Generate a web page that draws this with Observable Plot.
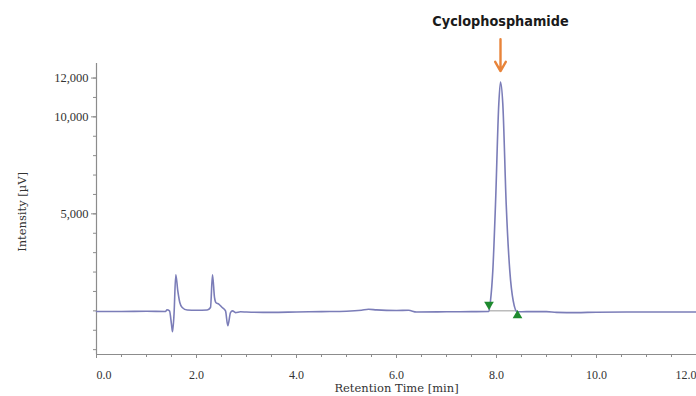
<!DOCTYPE html>
<html>
<head>
<meta charset="utf-8">
<script src="https://cdn.jsdelivr.net/npm/d3@7"></script>
<script src="https://cdn.jsdelivr.net/npm/@observablehq/plot@0.6"></script>
<style>
  html, body { margin: 0; padding: 0; background: #fff; }
  #chart { width: 696px; height: 396px; }
</style>
</head>
<body>
<div id="chart"></div>
<script>
// Chromatogram trace (retention time in min, intensity in µV)
const time = [0.0, 0.5, 1.0, 1.38, 1.41, 1.46, 1.50, 1.52, 1.55, 1.586, 1.626, 1.666, 1.714, 1.814, 2.0, 2.214, 2.28, 2.32, 2.36, 2.386, 2.446, 2.514, 2.58, 2.626, 2.68, 2.72, 2.78, 2.88, 3.0, 3.5, 4.0, 4.5, 5.0, 5.3, 5.44, 5.6, 6.0, 6.24, 6.4, 7.0, 7.5, 7.846, 7.88, 7.926, 7.98, 8.046, 8.08, 8.126, 8.194, 8.266, 8.334, 8.414, 8.6, 9.0, 9.2, 9.6, 10.0, 11.0, 12.0];
const intensity = [-30, -30, -20, -30, 60, 0, -700, -1080, -200, 1860, 1030, 430, 170, 40, 30, 40, 170, 1860, 690, 430, 350, 170, 0, -770, -90, 0, -90, -50, -60, -80, -60, -40, -20, 30, 80, 50, 20, 30, -60, -50, -40, -30, 520, 2060, 5500, 10670, 11800, 10670, 5500, 2060, 520, -50, -40, -40, -80, -90, -70, -60, -60];

// Peak annotation
const peakName = ["Cyclophosphamide"];
const peakTime = [8.08];
const peakHeight = [11800];
// Integration start / end markers
const markTime = [7.85, 8.42];
const markIntensity = [330, -240];

// Axis ticks
const yLabelTicks = [5000, 10000, 12000];
const yMinorTicks = d3.range(-2000, 12001, 1000);
const xLabelTicks = [2, 4, 6, 8, 10];
const xMinorTicks = d3.range(0, 12.01, 0.5);
const xMajorTicks = d3.range(0, 12.01, 2);

const trace = time.map((t, i) => ({t, v: intensity[i]}));
const peaks = peakName.map((n, i) => ({name: n, t: peakTime[i], h: peakHeight[i]}));
const marks = markTime.map((t, i) => ({t, v: markIntensity[i], rot: i === 0 ? 180 : 0}));

const axisColor = "#8c8c8c";
const serif = "'Liberation Serif', 'DejaVu Serif', serif";
const wideSerif = "'DejaVu Serif', 'Liberation Serif', serif";
const fmtX = d => d.toFixed(1);

const chart = Plot.plot({
  width: 696,
  height: 396,
  marginLeft: 96,
  marginRight: 0,
  marginTop: 63,
  marginBottom: 42,
  style: {fontFamily: serif, fontSize: "12px", color: "#333", background: "#fff"},
  x: {domain: [0, 12]},
  y: {domain: [-2250, 12750]},
  marks: [
    // axis lines
    Plot.ruleX([0], {stroke: axisColor, strokeWidth: 1.2}),
    Plot.ruleY([-2250], {stroke: axisColor, strokeWidth: 1.2}),
    // y ticks
    Plot.axisY({ticks: yMinorTicks, tickSize: 3, text: null, stroke: axisColor, label: null}),
    Plot.axisY({ticks: yLabelTicks, tickSize: 5, tickFormat: d3.format(","), stroke: axisColor, fill: "#333", fontSize: 12.5, label: null, tickPadding: 3}),
    Plot.text(["Intensity [µV]"], {frameAnchor: "left", textAnchor: "middle", dx: -74, rotate: -90, fontSize: 11.5, fontFamily: wideSerif, fill: "#333", y: [5100]}),
    // x ticks
    Plot.axisX({ticks: xMinorTicks, tickSize: 3, text: null, stroke: axisColor, label: null}),
    Plot.axisX({ticks: xMajorTicks, tickSize: 4, text: null, stroke: axisColor, label: null}),
    Plot.axisX({ticks: xLabelTicks, tickSize: 0, tickFormat: fmtX, fill: "#333", fontSize: 12, tickPadding: 16, label: null}),
    Plot.axisX({ticks: [0], tickSize: 0, tickFormat: fmtX, fill: "#333", fontSize: 12, tickPadding: 16, textAnchor: "start", dx: 0, label: null}),
    Plot.axisX({ticks: [12], tickSize: 0, tickFormat: fmtX, fill: "#333", fontSize: 12, tickPadding: 16, textAnchor: "end", dx: 0, label: null}),
    Plot.text(["Retention Time [min]"], {x: [6], frameAnchor: "bottom", dy: 37, fontSize: 11.5, fontFamily: wideSerif, fill: "#333"}),
    // integration baseline
    Plot.link([marks], {x1: d => d[0].t, y1: d => d[0].v - 330, x2: d => d[1].t, y2: d => d[1].v + 240, stroke: "#999", strokeWidth: 1}),
    // trace
    Plot.line(trace, {x: "t", y: "v", stroke: "#7b7db8", strokeWidth: 1.6, curve: "monotone-x"}),
    // integration markers
    Plot.dot(marks, {x: "t", y: "v", symbol: "triangle", r: 3.6, fill: "#1e8a2e", stroke: "none", rotate: "rot"}),
    // peak annotation
    Plot.arrow(peaks, {x1: "t", x2: "t", y1: d => d.h + 2200, y2: d => d.h + 560, stroke: "#e8843a", strokeWidth: 2.4, headLength: 9}),
    Plot.text(peaks, {x: "t", y: d => d.h + 3100, text: "name", fontFamily: "'DejaVu Sans Condensed', 'DejaVu Sans', sans-serif", fontWeight: "bold", fontSize: 14.3, fill: "#1a1a1a", fontStretch: "condensed"})
  ]
});
document.getElementById("chart").appendChild(chart);
</script>
</body>
</html>
